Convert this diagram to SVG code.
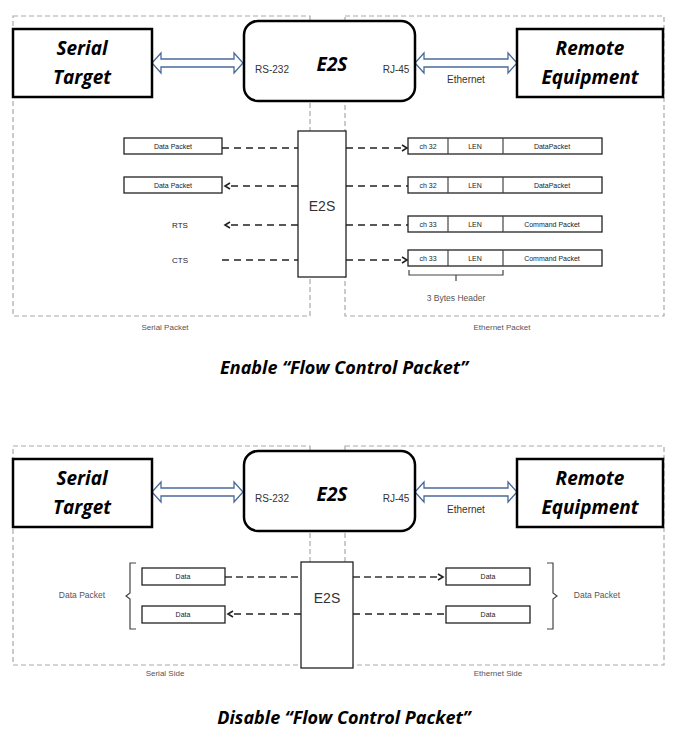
<svg xmlns="http://www.w3.org/2000/svg" width="678" height="745" viewBox="0 0 678 745">
<style>
.panel{fill:none;stroke:#aaa;stroke-width:1.2;stroke-dasharray:5,3}
.big{fill:#fff;stroke:#000;stroke-width:2.5}
.bt{font-family:"Open Sans","DejaVu Sans",sans-serif;font-weight:bold;font-style:italic;font-size:19px;text-anchor:middle;fill:#000}
.s{font-family:"Liberation Sans",Arial,sans-serif;font-size:10px;text-anchor:middle;fill:#333}
.t{font-family:"Liberation Sans",Arial,sans-serif;font-size:7px;text-anchor:middle;fill:#222}
.pk{fill:#fff;stroke:#222;stroke-width:1.3}
.dl{stroke:#222;stroke-width:1.6;stroke-dasharray:7,5;fill:none}
.dg{stroke:#666;stroke-width:2.2;stroke-dasharray:7,4;fill:none}
.br{fill:none;stroke:#444;stroke-width:1.2}
.dbl{fill:#fff;stroke:#4a6a9a;stroke-width:1.3}
</style>
<defs>
<marker id="ah" markerWidth="8" markerHeight="8" refX="6" refY="4" orient="auto" markerUnits="userSpaceOnUse"><path d="M1,1 L6,4 L1,7" fill="none" stroke="#222" stroke-width="1.6"/></marker>
</defs>
<rect width="678" height="745" fill="#fff"/>
<rect class="panel" x="13" y="16" width="297" height="300"/>
<rect class="panel" x="345" y="16" width="319" height="300"/>
<rect class="panel" x="13" y="446" width="297" height="219"/>
<rect class="panel" x="345" y="446" width="319" height="219"/>

<g id="connectors">
<path class="dbl" d="M152,63 l9,-10 v6 h73 v-6 l9,10 l-9,10 v-6 h-73 v6 z"/>
<path class="dbl" d="M415,63 l9,-10 v6 h84 v-6 l9,10 l-9,10 v-6 h-84 v6 z"/>
<path class="dbl" d="M152,492 l9,-10 v6 h73 v-6 l9,10 l-9,10 v-6 h-73 v6 z"/>
<path class="dbl" d="M415,492 l9,-10 v6 h84 v-6 l9,10 l-9,10 v-6 h-84 v6 z"/>
<line class="dl" x1="222" y1="148" x2="298" y2="148"/>
<line class="dl" x1="298" y1="186" x2="225" y2="186" marker-end="url(#ah)"/>
<line class="dl" x1="298" y1="225" x2="225" y2="225" marker-end="url(#ah)"/>
<line class="dl" x1="222" y1="260" x2="298" y2="260"/>
<line class="dl" x1="346" y1="148" x2="407" y2="148" marker-end="url(#ah)"/>
<line class="dl" x1="346" y1="186" x2="410" y2="186"/>
<line class="dl" x1="346" y1="225" x2="410" y2="225"/>
<line class="dl" x1="346" y1="260" x2="407" y2="260" marker-end="url(#ah)"/>
<line class="dg" x1="225" y1="577" x2="301" y2="577"/>
<line class="dl" x1="301" y1="614" x2="228" y2="614" marker-end="url(#ah)"/>
<line class="dg" x1="353" y1="577" x2="443" y2="577" marker-end="url(#ah)"/>
<line class="dl" x1="353" y1="614" x2="446" y2="614"/>
</g>

<g id="serial-target"><rect class="big" x="13" y="29" width="139" height="68"/><text class="bt" x="82" y="55">Serial</text><text class="bt" x="82" y="84">Target</text></g>
<g id="e2s-top"><rect class="big" x="244" y="21" width="171" height="80" rx="14"/><text class="bt" x="332" y="71">E2S</text><text class="s" x="272" y="73">RS-232</text><text class="s" x="396" y="73">RJ-45</text></g>
<g id="remote-top"><rect class="big" x="517" y="29" width="146" height="68"/><text class="bt" x="590" y="55">Remote</text><text class="bt" x="590" y="84">Equipment</text></g>
<text class="s" x="466" y="83">Ethernet</text>

<g id="e2s-mid"><rect class="pk" x="298" y="131" width="48" height="146"/><text class="s" x="322" y="211" style="font-size:14px">E2S</text></g>
<g id="left-packets">
<rect class="pk" x="124" y="138" width="98" height="16"/><text class="t" x="173" y="149">Data Packet</text>
<rect class="pk" x="124" y="177" width="98" height="16"/><text class="t" x="173" y="188">Data Packet</text>
<text class="t" x="180" y="228" style="font-size:8px">RTS</text>
<text class="t" x="180" y="263" style="font-size:8px">CTS</text>
</g>
<g id="right-packets">
<g><rect class="pk" x="408" y="138" width="194" height="16"/><line class="br" x1="448" y1="138" x2="448" y2="154"/><line class="br" x1="503" y1="138" x2="503" y2="154"/><text class="t" x="428" y="149">ch 32</text><text class="t" x="475" y="149">LEN</text><text class="t" x="552" y="149">DataPacket</text></g>
<g><rect class="pk" x="408" y="177" width="194" height="16"/><line class="br" x1="448" y1="177" x2="448" y2="193"/><line class="br" x1="503" y1="177" x2="503" y2="193"/><text class="t" x="428" y="188">ch 32</text><text class="t" x="475" y="188">LEN</text><text class="t" x="552" y="188">DataPacket</text></g>
<g><rect class="pk" x="408" y="216" width="194" height="16"/><line class="br" x1="448" y1="216" x2="448" y2="232"/><line class="br" x1="503" y1="216" x2="503" y2="232"/><text class="t" x="428" y="227">ch 33</text><text class="t" x="475" y="227">LEN</text><text class="t" x="552" y="227">Command Packet</text></g>
<g><rect class="pk" x="408" y="250" width="194" height="16"/><line class="br" x1="448" y1="250" x2="448" y2="266"/><line class="br" x1="503" y1="250" x2="503" y2="266"/><text class="t" x="428" y="261">ch 33</text><text class="t" x="475" y="261">LEN</text><text class="t" x="552" y="261">Command Packet</text></g>
<path class="br" d="M409,270 v5 h94 v-5 M456,275 v6"/>
<text class="t" x="456" y="301" style="font-size:8.5px;fill:#555">3 Bytes Header</text>
</g>
<text class="t" x="165" y="330" style="font-size:8px;fill:#555">Serial Packet</text>
<text class="t" x="502" y="330" style="font-size:8px;fill:#555">Ethernet Packet</text>
<text class="bt" x="344" y="374" style="font-size:18px">Enable “Flow Control Packet”</text>

<g id="serial-target-2"><rect class="big" x="13" y="459" width="139" height="68"/><text class="bt" x="82" y="485">Serial</text><text class="bt" x="82" y="514">Target</text></g>
<g id="e2s-top-2"><rect class="big" x="244" y="451" width="171" height="80" rx="14"/><text class="bt" x="332" y="501">E2S</text><text class="s" x="272" y="502">RS-232</text><text class="s" x="396" y="502">RJ-45</text></g>
<g id="remote-top-2"><rect class="big" x="517" y="459" width="146" height="68"/><text class="bt" x="590" y="485">Remote</text><text class="bt" x="590" y="514">Equipment</text></g>
<text class="s" x="466" y="513">Ethernet</text>

<g id="e2s-mid-2"><rect class="pk" x="301" y="562" width="52" height="106"/><text class="s" x="327" y="603" style="font-size:14px">E2S</text></g>
<g id="left-data">
<rect class="pk" x="142" y="568" width="83" height="17"/><text class="t" x="183" y="579">Data</text>
<rect class="pk" x="142" y="606" width="83" height="17"/><text class="t" x="183" y="617">Data</text>
<path class="br" d="M136,563 h-6 v30 l-4,3 l4,3 v30 h6"/>
<text class="t" x="82" y="598" style="font-size:8.5px;fill:#555">Data Packet</text>
</g>
<g id="right-data">
<rect class="pk" x="446" y="568" width="84" height="17"/><text class="t" x="488" y="579">Data</text>
<rect class="pk" x="446" y="606" width="84" height="17"/><text class="t" x="488" y="617">Data</text>
<path class="br" d="M547,563 h6 v30 l4,3 l-4,3 v30 h-6"/>
<text class="t" x="597" y="598" style="font-size:8.5px;fill:#555">Data Packet</text>
</g>
<text class="t" x="165" y="676" style="font-size:8px;fill:#555">Serial Side</text>
<text class="t" x="498" y="676" style="font-size:8px;fill:#555">Ethernet Side</text>
<text class="bt" x="344" y="724" style="font-size:18px">Disable “Flow Control Packet”</text>
</svg>
